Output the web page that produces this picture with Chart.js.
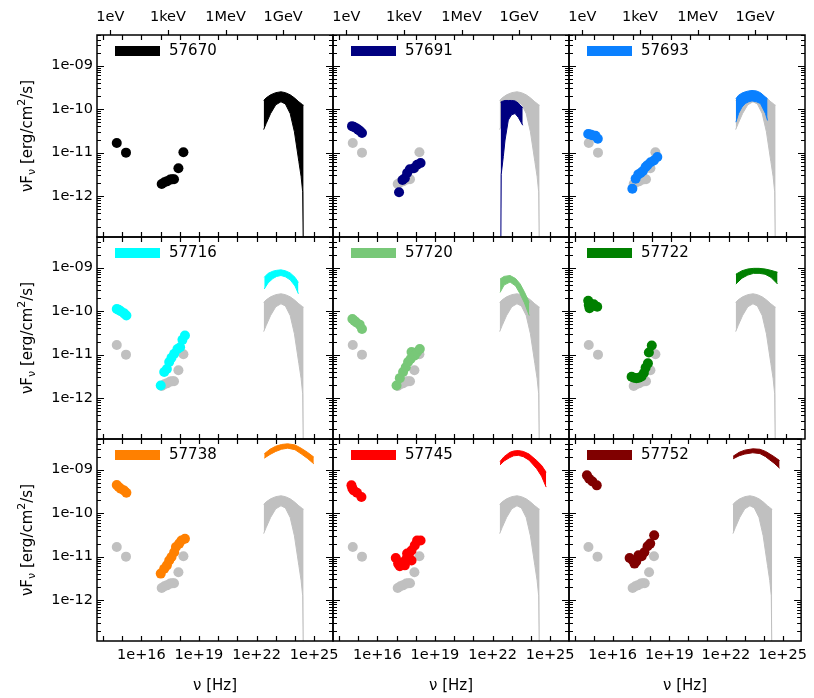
<!DOCTYPE html>
<html>
<head>
<meta charset="utf-8">
<script src="https://cdn.jsdelivr.net/npm/chart.js@4.4.0/dist/chart.umd.min.js"></script>
<style>
  html, body { margin: 0; padding: 0; background: #fff; }
  #wrap { position: relative; width: 814px; height: 698px; }
  #wrap canvas { position: absolute; left: 0; top: 0; }
</style>
</head>
<body>
<div id="wrap"></div>
<script>
'use strict';

// epochs (MJD) and their colours; the first epoch is repeated in grey in the other panels
const epochs = ['57670', '57691', '57693', '57716', '57720', '57722', '57738', '57745', '57752'];
const colours = ['#000000', '#000080', '#0a80ff', '#00ffff', '#78c878', '#008000', '#ff8000', '#ff0000', '#800000'];
const refColour = '#c0c0c0';

// all values are log10: nu in Hz, nuFnu in erg/cm2/s
const optNu = [
  [14.72, 15.20],
  [14.68, 14.78, 14.90, 15.00, 15.10, 15.20],
  [14.69, 14.80, 14.90, 15.07, 15.19],
  [14.72, 14.82, 14.93, 15.10, 15.22],
  [14.70, 14.80, 14.91, 15.08, 15.20],
  [14.69, 14.72, 14.76, 14.81, 14.98, 15.16],
  [14.72, 14.82, 14.93, 15.10, 15.22],
  [14.65, 14.70, 14.77, 14.94, 15.17],
  [14.64, 14.76, 14.93, 15.16]
];
const optFlux = [
  [-10.78, -11.00],
  [-10.39, -10.41, -10.44, -10.47, -10.50, -10.55],
  [-10.57, -10.58, -10.60, -10.61, -10.68],
  [-9.95, -9.97, -10.00, -10.05, -10.10],
  [-10.18, -10.22, -10.26, -10.31, -10.41],
  [-9.76, -9.86, -9.93, -9.83, -9.84, -9.90],
  [-9.35, -9.40, -9.44, -9.48, -9.53],
  [-9.36, -9.43, -9.48, -9.53, -9.63],
  [-9.13, -9.21, -9.27, -9.36]
];
const xrayNu = [
  [17.06, 17.20, 17.33, 17.50, 17.60, 17.70, 17.93, 18.19],
  [17.13, 17.31, 17.43, 17.55, 17.69, 17.90, 18.07, 18.25],
  [16.99, 17.16, 17.30, 17.42, 17.54, 17.68, 17.77, 17.94, 18.11, 18.29],
  [17.01, 17.19, 17.33, 17.45, 17.57, 17.71, 17.88, 18.02, 18.14, 18.27],
  [17.00, 17.17, 17.34, 17.48, 17.60, 17.73, 17.78, 17.95, 18.07, 18.21],
  [16.95, 17.07, 17.20, 17.33, 17.47, 17.59, 17.68, 17.80, 17.85, 18.00],
  [17.01, 17.19, 17.33, 17.45, 17.57, 17.71, 17.80, 17.97, 18.09, 18.27],
  [16.96, 17.08, 17.17, 17.31, 17.43, 17.52, 17.55, 17.65, 17.78, 17.78, 17.95, 18.07, 18.25],
  [16.90, 17.07, 17.16, 17.25, 17.37, 17.54, 17.68, 17.85, 17.99, 18.20]
];
const xrayFlux = [
  [-11.72, -11.68, -11.66, -11.62, -11.61, -11.61, -11.36, -10.99],
  [-11.91, -11.63, -11.59, -11.47, -11.38, -11.36, -11.28, -11.24],
  [-11.83, -11.60, -11.50, -11.47, -11.42, -11.33, -11.29, -11.22, -11.18, -11.10],
  [-11.71, -11.40, -11.33, -11.17, -11.07, -10.98, -10.87, -10.83, -10.66, -10.56],
  [-11.71, -11.54, -11.40, -11.29, -11.17, -11.10, -10.94, -11.02, -10.94, -10.87],
  [-11.51, -11.53, -11.54, -11.53, -11.50, -11.42, -11.30, -11.20, -10.95, -10.79],
  [-11.39, -11.28, -11.20, -11.09, -11.01, -10.90, -10.78, -10.70, -10.63, -10.59],
  [-11.03, -11.16, -11.22, -11.13, -11.20, -11.05, -10.93, -10.93, -10.86, -11.09, -10.74, -10.63, -10.63],
  [-11.03, -11.09, -11.16, -11.11, -10.97, -10.99, -10.90, -10.76, -10.70, -10.51]
];
// gamma-ray butterflies: frequencies, upper and lower edge
const latNu = [
  [22.37, 22.50, 22.73, 23.00, 23.27, 23.50, 23.75, 23.97, 24.20, 24.32, 24.40, 24.45],
  [22.42, 22.45, 22.56, 22.65, 22.82, 22.99, 23.17, 23.34, 23.57],
  [22.38, 22.52, 22.70, 22.87, 23.05, 23.22, 23.45, 23.66, 23.92, 24.03],
  [22.40, 22.60, 22.85, 23.05, 23.27, 23.50, 23.75, 24.00, 24.18],
  [22.39, 22.60, 22.91, 23.20, 23.43, 23.65, 23.91],
  [22.38, 22.70, 23.00, 23.30, 23.59, 23.90, 24.20, 24.55],
  [22.40, 22.70, 23.00, 23.30, 23.62, 24.00, 24.32, 24.65, 24.98],
  [22.39, 22.60, 22.90, 23.10, 23.34, 23.60, 23.90, 24.30, 24.55, 24.79],
  [22.38, 22.70, 23.00, 23.42, 23.80, 24.10, 24.29, 24.55, 24.84]
];
const latHi = [
  [-9.80, -9.74, -9.67, -9.62, -9.60, -9.62, -9.67, -9.74, -9.83, -9.87, -9.90, -9.91],
  [-9.84, -9.83, -9.81, -9.80, -9.80, -9.80, -9.81, -9.86, -9.97],
  [-9.76, -9.68, -9.63, -9.60, -9.58, -9.57, -9.58, -9.62, -9.72, -9.76],
  [-9.22, -9.13, -9.08, -9.06, -9.05, -9.07, -9.12, -9.22, -9.34],
  [-9.26, -9.20, -9.18, -9.25, -9.37, -9.55, -9.80],
  [-9.15, -9.07, -9.03, -9.015, -9.015, -9.03, -9.06, -9.105],
  [-8.635, -8.53, -8.46, -8.42, -8.405, -8.43, -8.505, -8.60, -8.71],
  [-8.81, -8.70, -8.60, -8.57, -8.56, -8.58, -8.64, -8.79, -8.90, -9.06],
  [-8.69, -8.60, -8.55, -8.52, -8.53, -8.58, -8.63, -8.70, -8.79]
];
const latLo = [
  [-10.47, -10.33, -10.10, -9.90, -9.83, -9.88, -10.10, -10.52, -11.20, -11.55, -11.90, -14.00],
  [-14.00, -11.50, -11.09, -10.71, -10.25, -10.13, -10.10, -10.19, -10.37],
  [-10.30, -10.10, -9.95, -9.87, -9.83, -9.81, -9.83, -9.87, -10.10, -10.26],
  [-9.49, -9.35, -9.25, -9.20, -9.18, -9.21, -9.28, -9.42, -9.60],
  [-9.57, -9.40, -9.33, -9.42, -9.60, -9.80, -10.10],
  [-9.375, -9.24, -9.17, -9.13, -9.13, -9.15, -9.22, -9.375],
  [-8.735, -8.65, -8.58, -8.53, -8.505, -8.54, -8.635, -8.74, -8.865],
  [-8.89, -8.80, -8.72, -8.68, -8.67, -8.70, -8.78, -8.98, -9.15, -9.40],
  [-8.75, -8.68, -8.64, -8.61, -8.63, -8.70, -8.765, -8.85, -8.965]
];

// tick labels
const xTickExp = [16, 19, 22, 25];
const yTickExp = [-12, -11, -10, -9];
const energyLabels = ['1eV', '1keV', '1MeV', '1GeV'];
const energyHz = [2.418e14, 2.418e17, 2.418e20, 2.418e23];

// panel frames in page pixels
const W = 814, H = 698;
const colL = [97, 333, 569], colR = [333, 569, 805];
const rowT = [35, 237, 439], rowB = [237, 439, 641];
const X_MIN = Math.pow(10, 13.69), X_MAX = Math.pow(10, 25.98);
const Y_MIN = Math.pow(10, -12.94), Y_MAX = Math.pow(10, -8.294);

const FONT = '"DejaVu Sans", sans-serif';
Chart.defaults.font.family = FONT;
Chart.defaults.color = '#000';

function pts(nu, f) {
  return nu.map((v, i) => ({ x: Math.pow(10, v), y: Math.pow(10, f[i]) }));
}

function addEpoch(list, i, colour, order) {
  const base = list.length;
  list.push({
    data: pts(latNu[i], latLo[i]), showLine: true, pointRadius: 0,
    borderColor: colour, borderWidth: 1, backgroundColor: colour, fill: false, order: order + 1
  });
  list.push({
    data: pts(latNu[i], latHi[i]), showLine: true, pointRadius: 0,
    borderColor: colour, borderWidth: 1, backgroundColor: colour, fill: base, order: order + 1
  });
  list.push({
    data: pts(optNu[i], optFlux[i]).concat(pts(xrayNu[i], xrayFlux[i])),
    pointRadius: 5, pointBackgroundColor: colour, pointBorderWidth: 0, order: order
  });
}

function drawYTitle(ctx, cx, cy) {
  const big = '15px ' + FONT, small = '11px ' + FONT;
  const parts = [['\u03bdF', big, 0], ['\u03bd', small, 4], [' [erg/cm', big, 0], ['2', small, -6], ['/s]', big, 0]];
  let total = 0;
  parts.forEach(p => { ctx.font = p[1]; total += ctx.measureText(p[0]).width; });
  ctx.save();
  ctx.translate(cx, cy);
  ctx.rotate(-Math.PI / 2);
  ctx.fillStyle = '#000';
  ctx.textBaseline = 'middle';
  let x = -total / 2;
  parts.forEach(p => {
    ctx.font = p[1];
    ctx.fillText(p[0], x, p[2]);
    x += ctx.measureText(p[0]).width;
  });
  ctx.restore();
}

// frame, inward ticks, legend and y title
const framePlugin = {
  id: 'frame',
  afterDatasetsDraw(chart, args, opts) {
    const { ctx, chartArea: a } = chart;
    const xs = chart.scales.x, ys = chart.scales.y;
    ctx.save();
    ctx.strokeStyle = '#000';
    ctx.lineWidth = 1.2;
    ctx.beginPath();
    for (let e = 14; e <= 25; e++) {
      const px = Math.round(xs.getPixelForValue(Math.pow(10, e))) + 0.5;
      ctx.moveTo(px, a.bottom); ctx.lineTo(px, a.bottom - 5);
      ctx.moveTo(px, a.top); ctx.lineTo(px, a.top + 5);
    }
    for (let e = -13; e <= -9; e++) {
      for (let m = 1; m <= 9; m++) {
        const v = m * Math.pow(10, e);
        if (v < Y_MIN || v > Y_MAX) continue;
        const py = Math.round(ys.getPixelForValue(v)) + 0.5;
        const len = m === 1 ? 7 : 4;
        ctx.moveTo(a.left, py); ctx.lineTo(a.left + len, py);
        ctx.moveTo(a.right, py); ctx.lineTo(a.right - len, py);
      }
    }
    if (opts.row === 0) {
      energyHz.forEach(v => {
        const px = Math.round(xs.getPixelForValue(v)) + 0.5;
        ctx.moveTo(px, a.top); ctx.lineTo(px, a.top - 5);
      });
    }
    ctx.stroke();
    ctx.lineWidth = 1.5;
    ctx.strokeRect(a.left, a.top, a.right - a.left, a.bottom - a.top);

    ctx.fillStyle = opts.colour;
    ctx.fillRect(a.left + 18, a.top + 11, 45, 10);
    ctx.fillStyle = '#000';
    ctx.font = '15px ' + FONT;
    ctx.textBaseline = 'middle';
    ctx.textAlign = 'left';
    ctx.fillText(opts.label, a.left + 72, a.top + 16.5);

    if (opts.col === 0) drawYTitle(ctx, 28, (a.top + a.bottom) / 2);
    ctx.restore();
  }
};

const wrap = document.getElementById('wrap');
const tickFont = { size: 14.5, family: FONT };
const noGrid = { display: false, drawTicks: false };

epochs.forEach((label, i) => {
  const r = Math.floor(i / 3), c = i % 3;
  const canvas = document.createElement('canvas');
  canvas.width = W; canvas.height = H;
  canvas.style.width = W + 'px'; canvas.style.height = H + 'px';
  wrap.appendChild(canvas);

  const datasets = [];
  addEpoch(datasets, i, colours[i], 0);
  if (i > 0) addEpoch(datasets, 0, refColour, 3);

  new Chart(canvas.getContext('2d'), {
    type: 'scatter',
    data: { datasets },
    options: {
      responsive: false,
      animation: false,
      devicePixelRatio: 1,
      events: [],
      layout: { padding: 0 },
      plugins: {
        legend: { display: false },
        tooltip: { enabled: false },
        frame: { row: r, col: c, colour: colours[i], label }
      },
      scales: {
        x: {
          type: 'logarithmic', position: 'bottom', bounds: 'data', min: X_MIN, max: X_MAX,
          grid: noGrid, border: { display: false },
          afterBuildTicks: s => { s.ticks = xTickExp.map(e => ({ value: Math.pow(10, e) })); },
          afterFit: s => { s.height = H - rowB[r]; },
          ticks: {
            display: r === 2, autoSkip: false, maxRotation: 0, padding: 6, font: tickFont, color: '#000',
            callback: v => '1e+' + Math.round(Math.log10(v))
          },
          title: { display: r === 2, text: '\u03bd [Hz]', font: { size: 15, family: FONT }, color: '#000', padding: { top: 0, bottom: 3 } }
        },
        x2: {
          type: 'logarithmic', position: 'top', bounds: 'data', min: X_MIN, max: X_MAX,
          grid: noGrid, border: { display: false },
          afterBuildTicks: s => { s.ticks = energyHz.map(v => ({ value: v })); },
          afterFit: s => { s.height = rowT[r]; },
          ticks: {
            display: r === 0, autoSkip: false, maxRotation: 0, padding: 9, font: tickFont, color: '#000',
            callback: (v, idx) => energyLabels[idx]
          }
        },
        y: {
          type: 'logarithmic', position: 'left', bounds: 'data', min: Y_MIN, max: Y_MAX,
          grid: noGrid, border: { display: false },
          afterBuildTicks: s => { s.ticks = yTickExp.map(e => ({ value: Math.pow(10, e) })); },
          afterFit: s => { s.width = colL[c]; },
          ticks: {
            display: c === 0, autoSkip: false, padding: 4, font: tickFont, color: '#000',
            callback: v => '1e-' + String(-Math.round(Math.log10(v))).padStart(2, '0')
          }
        },
        y2: {
          type: 'logarithmic', position: 'right', bounds: 'data', min: Y_MIN, max: Y_MAX,
          grid: noGrid, border: { display: false },
          afterFit: s => { s.width = W - colR[c]; },
          ticks: { display: false }
        }
      }
    },
    plugins: [framePlugin]
  });
});
</script>
</body>
</html>
